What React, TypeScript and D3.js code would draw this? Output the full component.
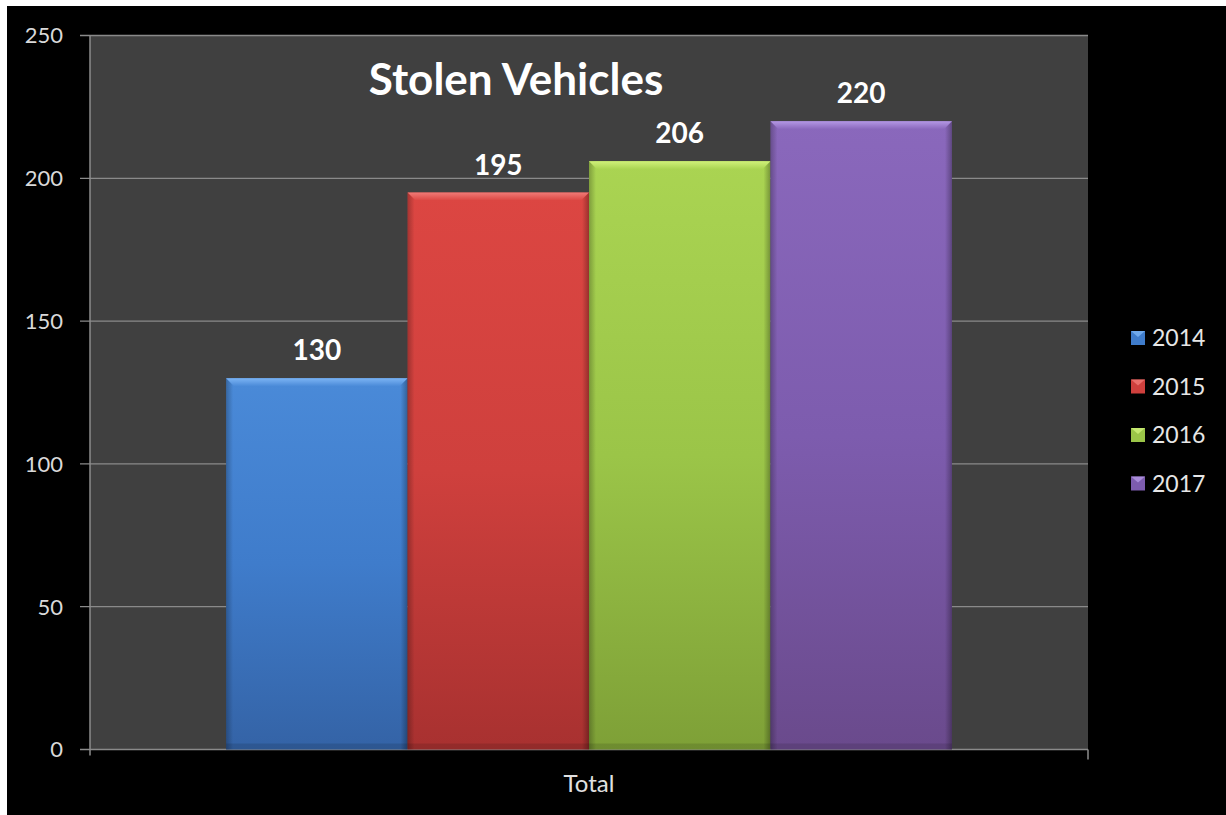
import React, { useEffect } from "react";
import * as d3 from "d3";

const categories = ["Total"];
const seriesNames = ["2014", "2015", "2016", "2017"];
const seriesValues = [130, 195, 206, 220];
const yTicks = [0, 50, 100, 150, 200, 250];
const chartTitle = "Stolen Vehicles";

const colorsTop = ["#4a8ad8", "#dc4642", "#aad452", "#8a68bc"];
const colorsBottom = ["#3463a6", "#a83130", "#7ea037", "#6a4a8c"];
const colorsMid = ["#3f7ccb", "#cf403d", "#9bc548", "#7d5cae"];
const highlight = ["#7cb4f4", "#f07a76", "#d0f07a", "#b498e4"];

const W = 1226;
const H = 815;
const plotL = 90;
const plotR = 1088;
const plotT = 35.5;
const plotB = 749.5;
const FONT = "Lato, 'Open Sans', sans-serif";

export default function App() {
  useEffect(() => {
    document.body.style.margin = "0";
    document.body.style.overflow = "hidden";
    document.documentElement.style.overflow = "hidden";
    document.body.style.background = "#000";
  }, []);
  const y = d3.scaleLinear().domain([0, 250]).range([plotB, plotT]);
  const x0 = d3.scaleBand().domain(categories).range([plotL, plotR]);
  const bandW = x0.bandwidth();
  const barW = bandW / (seriesNames.length + 1.5);
  const groupStart = (x0("Total") as number) + (bandW - barW * seriesNames.length) / 2;
  const x1 = d3
    .scaleBand()
    .domain(seriesNames)
    .range([groupStart, groupStart + barW * seriesNames.length])
    .padding(0);

  return (
    <div
      style={{
        position: "fixed",
        left: 0,
        top: 0,
        right: 0,
        bottom: 0,
        background: "#000",
        borderTop: "6px solid #fff",
        borderLeft: "7px solid #fff",
        boxSizing: "border-box",
        overflow: "hidden",
      }}
    >
      <svg width={W + 40} height={H + 40} style={{ display: "block", position: "absolute", left: -7, top: -6 }}>
        <defs>
          {seriesNames.map((s, i) => (
            <linearGradient key={s} id={`g${i}`} x1="0" y1="0" x2="0" y2="1">
              <stop offset="0" stopColor={colorsTop[i]} />
              <stop offset="0.5" stopColor={colorsMid[i]} />
              <stop offset="1" stopColor={colorsBottom[i]} />
            </linearGradient>
          ))}
          {seriesNames.map((s, i) => (
            <linearGradient key={s} id={`h${i}`} x1="0" y1="0" x2="0" y2="1">
              <stop offset="0" stopColor={highlight[i]} />
              <stop offset="1" stopColor={colorsTop[i]} />
            </linearGradient>
          ))}
          <linearGradient id="sideL" x1="0" y1="0" x2="1" y2="0">
            <stop offset="0" stopColor="#000" stopOpacity="0.25" />
            <stop offset="1" stopColor="#000" stopOpacity="0" />
          </linearGradient>
          <linearGradient id="sideR" x1="1" y1="0" x2="0" y2="0">
            <stop offset="0" stopColor="#000" stopOpacity="0.3" />
            <stop offset="1" stopColor="#000" stopOpacity="0" />
          </linearGradient>
        </defs>
        <rect x={7} y={6} width={W + 40} height={H + 40} fill="#000" />
        <rect x={plotL} y={plotT} width={plotR - plotL} height={plotB - plotT} fill="#404040" />
        {yTicks.map((t) => (
          <g key={t}>
            <line x1={80} x2={plotR} y1={y(t)} y2={y(t)} stroke="#8a8a8a" strokeWidth={1.3} />
            <text
              x={63}
              y={y(t)}
              dy="0.36em"
              textAnchor="end"
              fill="#d9d9d9"
              fontSize={22}
              fontFamily={FONT}
            >
              {t}
            </text>
          </g>
        ))}
        <line x1={plotL} x2={plotL} y1={plotT} y2={plotB + 6} stroke="#8c8c8c" strokeWidth={1.5} />
        <line x1={plotR} x2={plotR} y1={plotB} y2={plotB + 10} stroke="#8c8c8c" strokeWidth={1.5} />

        {seriesNames.map((s, i) => {
          const bx = x1(s) as number;
          const bw = x1.bandwidth();
          const by = y(seriesValues[i]);
          const bh = plotB - by;
          const bev = 8;
          return (
            <g key={s}>
              <rect x={bx} y={by} width={bw} height={bh} fill={`url(#g${i})`} />
              <rect x={bx} y={by} width={7} height={bh} fill="url(#sideL)" />
              <rect x={bx + bw - 7} y={by} width={7} height={bh} fill="url(#sideR)" />
              <polygon
                points={`${bx},${by} ${bx + bw},${by} ${bx + bw - bev},${by + bev} ${bx + bev},${by + bev}`}
                fill={`url(#h${i})`}
              />
              <rect x={bx} y={plotB - 6} width={bw} height={6} fill="#000" opacity={0.12} />
              <text
                x={bx + bw / 2}
                y={by - 18}
                textAnchor="middle"
                fill="#fff"
                fontSize={28}
                fontWeight="bold"
                fontFamily={FONT}
              >
                {seriesValues[i]}
              </text>
            </g>
          );
        })}

        <text
          x={516}
          y={95}
          textAnchor="middle"
          fill="#fff"
          fontSize={44}
          fontWeight="bold"
          fontFamily={FONT}
        >
          {chartTitle}
        </text>

        {categories.map((c) => (
          <text
            key={c}
            x={(x0(c) as number) + bandW / 2}
            y={792}
            textAnchor="middle"
            fill="#e0e0e0"
            fontSize={24}
            fontFamily={FONT}
          >
            {c}
          </text>
        ))}

        {seriesNames.map((s, i) => {
          const ly = 338 + i * 48.5;
          return (
            <g key={s}>
              <rect x={1131} y={ly - 7} width={14} height={14} fill={colorsMid[i]} />
              <polygon points={`${1131},${ly - 7} ${1145},${ly - 7} ${1138},${ly - 1}`} fill={highlight[i]} opacity={0.8} />
              <text x={1152} y={ly} dy="0.36em" fill="#e6e6e6" fontSize={23} fontFamily={FONT}>
                {s}
              </text>
            </g>
          );
        })}
      </svg>
    </div>
  );
}
